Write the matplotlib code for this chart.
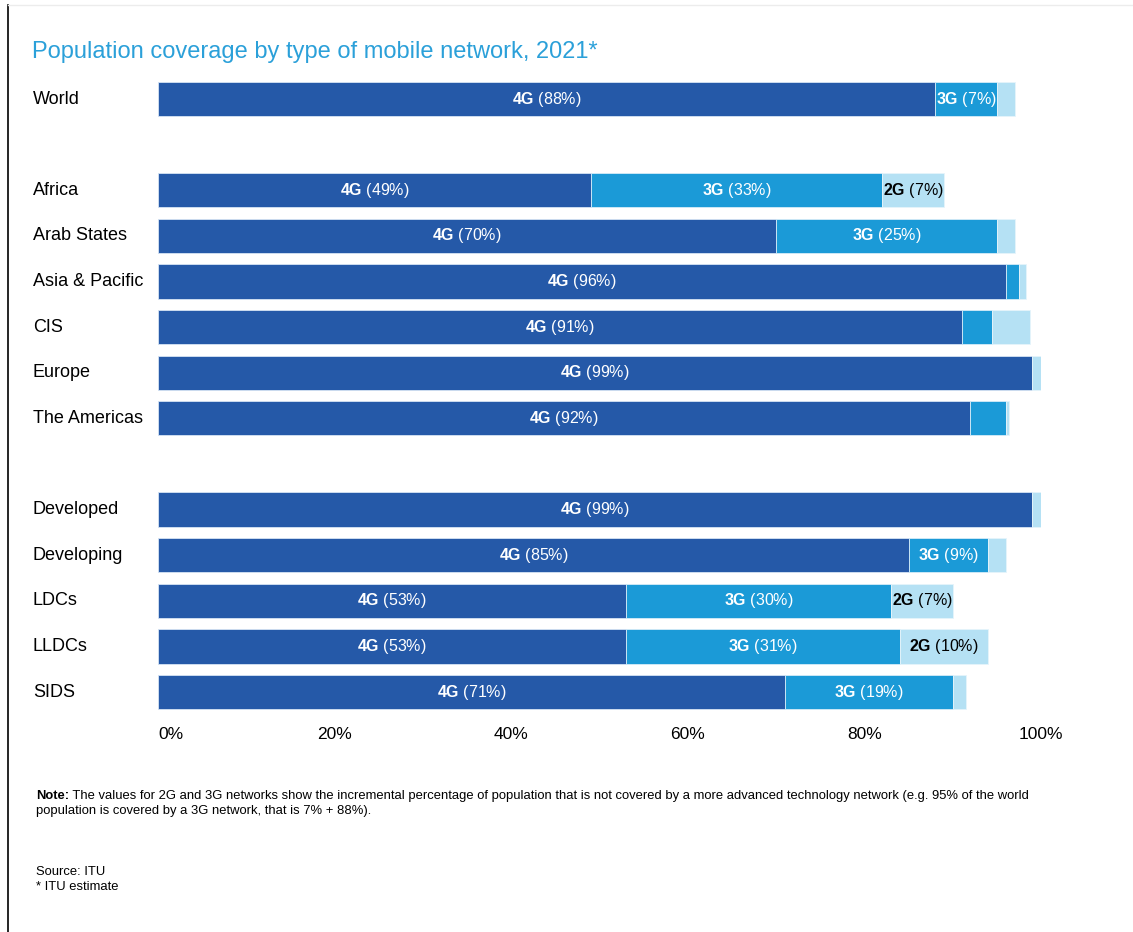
import matplotlib
matplotlib.use("Agg")
import matplotlib.pyplot as plt
import matplotlib.transforms as mtransforms
from matplotlib.lines import Line2D

plt.rcParams["font.family"] = ["Liberation Sans", "DejaVu Sans"]
plt.rcParams["mathtext.fontset"] = "custom"
plt.rcParams["mathtext.rm"] = "Liberation Sans"
plt.rcParams["mathtext.bf"] = "Liberation Sans:bold"

# regions, with row positions (empty rows separate the groups)
regions = ["World", "Africa", "Arab States", "Asia & Pacific", "CIS", "Europe",
           "The Americas", "Developed", "Developing", "LDCs", "LLDCs", "SIDS"]
rows = [0, 2, 3, 4, 5, 6, 7, 9, 10, 11, 12, 13]

# incremental coverage (%)
cov_4g = [88, 49, 70, 96, 91, 99, 92, 99, 85, 53, 53, 71]
cov_3g = [7, 33, 25, 1.5, 3.4, 0, 4, 0, 9, 30, 31, 19]
cov_2g = [2, 7, 2, 0.8, 4.4, 1, 0.4, 1, 2, 7, 10, 1.5]

# which segments carry a value label
show_3g = [True, True, True, False, False, False, False, False, True, True, True, True]
show_2g = [False, True, False, False, False, False, False, False, False, True, True, False]

xticks = [0, 20, 40, 60, 80, 100]

c4 = "#2559a8"
c3 = "#1b9ad7"
c2 = "#b5e1f4"

fig = plt.figure(figsize=(11.33, 9.32), dpi=100)
ax = fig.add_axes([0.1395, 0.2330, 0.7793, 0.6852])

left3 = [a for a in cov_4g]
left2 = [a + b for a, b in zip(cov_4g, cov_3g)]
ax.barh(rows, cov_4g, height=0.75, color=c4, edgecolor="#d6e4f4", linewidth=0.6)
ax.barh(rows, cov_3g, left=left3, height=0.75, color=c3, edgecolor="#d6ecf8", linewidth=0.6)
ax.barh(rows, cov_2g, left=left2, height=0.75, color=c2, edgecolor="#e6f4fb", linewidth=0.6)


def seg_label(x, y, tech, val, color):
    ax.text(x, y, r"$\mathbf{%s}$ (%d%%)" % (tech, val), ha="center", va="center",
            fontsize=11.5, color=color)


for i, r in enumerate(rows):
    seg_label(cov_4g[i] / 2, r, "4G", cov_4g[i], "white")
    if show_3g[i]:
        seg_label(left3[i] + cov_3g[i] / 2, r, "3G", cov_3g[i], "white")
    if show_2g[i]:
        seg_label(left2[i] + cov_2g[i] / 2, r, "2G", cov_2g[i], "black")

# region names, left aligned in the figure margin
trans = mtransforms.blended_transform_factory(fig.transFigure, ax.transData)
for name, r in zip(regions, rows):
    ax.text(33 / 1133, r, name, transform=trans, ha="left", va="center", fontsize=13)

ax.set_xlim(0, 100)
ax.set_ylim(13.5, -0.5)
ax.set_yticks([])
ax.set_xticks(xticks)
ax.set_xticklabels(["%d%%" % t for t in xticks], fontsize=12.5)
ax.get_xticklabels()[0].set_ha("left")
ax.tick_params(axis="x", length=0, pad=9)
for s in ax.spines.values():
    s.set_visible(False)

fig.text(32 / 1133, 1 - 58 / 932, "Population coverage by type of mobile network, 2021*",
         fontsize=17, color="#2ba0d9", va="baseline")

# footnotes; the bold "Note:" is followed by the plain sentence
fs_note = 9.4
note = fig.text(36 / 1133, 1 - 799 / 932, "Note:", fontsize=fs_note, fontweight="bold",
                va="baseline")
ax.annotate(" The values for 2G and 3G networks show the incremental percentage of "
            "population that is not covered by a more advanced technology network (e.g. 95% of the world",
            xy=(1, 0), xycoords=note, va="bottom", ha="left", fontsize=fs_note,
            annotation_clip=False)
fig.text(36 / 1133, 1 - 814 / 932,
         "population is covered by a 3G network, that is 7% + 88%).", fontsize=fs_note, va="baseline")
fig.text(36 / 1133, 1 - 875 / 932, "Source: ITU", fontsize=fs_note, va="baseline")
fig.text(36 / 1133, 1 - 890 / 932, "* ITU estimate", fontsize=fs_note, va="baseline")

# page frame: dark left rule, faint top rule
fig.add_artist(Line2D([7.5 / 1133, 7.5 / 1133], [0, 1 - 5 / 932], transform=fig.transFigure,
                      color="black", linewidth=1.2))
fig.add_artist(Line2D([7.5 / 1133, 1], [1 - 5 / 932, 1 - 5 / 932], transform=fig.transFigure,
                      color="#ececec", linewidth=1))

fig.savefig("out.png", dpi=100, facecolor="white")
